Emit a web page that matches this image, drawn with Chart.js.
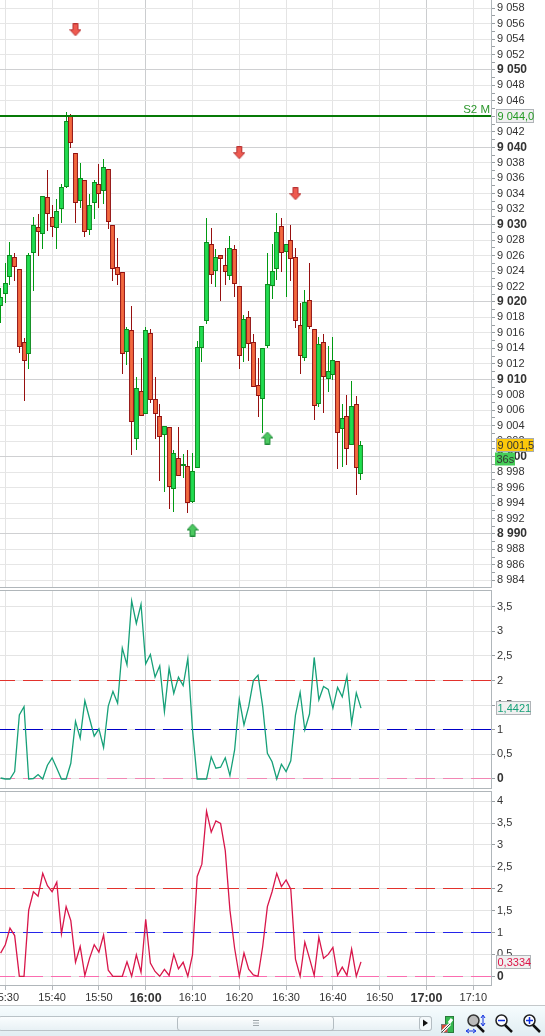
<!DOCTYPE html>
<html><head><meta charset="utf-8">
<script src="https://cdn.jsdelivr.net/npm/chart.js@4/dist/chart.umd.min.js"></script>
<style>
html,body{margin:0;padding:0;background:#fff;width:545px;height:1036px;overflow:hidden;font-family:"Liberation Sans",Arial,sans-serif}
canvas{position:absolute;left:0;display:block}
#bar{position:absolute;left:0;top:1005px;width:545px;height:31px;border-top:1px solid #c4c8ca;box-sizing:border-box;background:linear-gradient(#f6fcfe,#e1edf2)}
#track{position:absolute;left:-2px;top:10px;width:434px;height:15px;border:1px solid #b9c2c7;border-radius:3px;box-sizing:border-box;background:linear-gradient(#fafdfe,#e8f1f5)}
#thumb{position:absolute;left:177px;top:10px;width:157px;height:15px;border:1px solid #b4bdc2;border-radius:3px;box-sizing:border-box;background:linear-gradient(#fdfefe,#e6eff3)}
#btn{position:absolute;left:419px;top:10px;width:13px;height:15px;border:1px solid #b4bdc2;border-radius:3px;box-sizing:border-box;background:#f4f9fb}
svg{position:absolute}
</style></head><body>
<canvas id="c1" width="545" height="588" style="top:0"></canvas>
<canvas id="c2" width="545" height="199" style="top:590px"></canvas>
<canvas id="c3" width="545" height="215" style="top:791px"></canvas>
<div id="bar">
 <div id="track"></div><div id="thumb"></div><div id="btn"></div>
 <svg style="left:0;top:0" width="545" height="31" viewBox="0 0 545 31">
  <g stroke="#a0a8ac"><path d="M253 14.5h6M253 17h6M253 19.5h6"/></g>
  <path d="M423 13.5l5 3.5-5 3.5z" fill="#111"/>
  <rect x="445.500" y="10.500" width="8" height="16" fill="#35b84f" stroke="#2a7a3a"/>
  <rect x="441.500" y="18.500" width="6" height="8" fill="#d84a3a" stroke="#777"/>
  <path d="M442 26l8-8M449 17l3-4" stroke="#fff" stroke-width="3"/>
  <path d="M442 26l8-8" stroke="#444" stroke-width="1" fill="none"/>
  <circle cx="473.500" cy="14.500" r="5.500" fill="#bbb" stroke="#333" stroke-width="1.500"/>
  <path d="M477 19l7 7" stroke="#111" stroke-width="2.500"/>
  <path d="M483 10v9M481 12l2-3 2 3M481 17l2 3 2-3M467 25h8M469 23l-3 2 3 2M473 23l3 2-3 2" stroke="#1030e0" fill="none"/>
  <circle cx="501.500" cy="14.500" r="5.500" fill="#fff" stroke="#222" stroke-width="1.500"/>
  <path d="M498 14.500h7" stroke="#1030e0" stroke-width="1.500"/>
  <path d="M505 19l7 7" stroke="#111" stroke-width="2.500"/>
  <circle cx="529.500" cy="14.500" r="5.500" fill="#fff" stroke="#222" stroke-width="1.500"/>
  <path d="M526 14.500h7M529.500 11v7" stroke="#1030e0" stroke-width="1.500"/>
  <path d="M533 19l7 7" stroke="#111" stroke-width="2.500"/>
 </svg>
</div>
<script>
// ---------- data (minutes after 15:30) ----------
const tickMinutes = [0,10,20,30,40,50,60,70,80,90,100];
const tickLabels = ['15:30','15:40','15:50','16:00','16:10','16:20','16:30','16:40','16:50','17:00','17:10'];
const boldTimes = ['16:00','17:00'];
const firstMinute = -1;
const opens = [9019.48,9020.99,9023.28,9025.78,9024.22,9014.79,9013.23,9026.29,9029.74,9028.75,9033.53,9030.95,9029.52,9031.98,9034.91,9044.22,9039.22,9033.02,9035.73,9029.27,9032.76,9035.22,9034.40,9037.24,9029.91,9024.48,9023.84,9013.49,9016.34,9002.24,9008.45,9005.48,9015.95,9007.41,9005.22,9002.76,9003.79,8995.78,8999.79,8998.75,8998.75,8994.14,8998.49,9014.01,9017.50,9027.46,9023.97,9026.04,9024.74,9023.32,9026.81,9022.03,9014.01,9018.02,9014.78,9009.22,9007.41,9014.27,9022.03,9024.22,9029.78,9026.42,9027.97,9025.78,9016.98,9012.72,9020.22,9016.47,9006.77,9014.78,9010.00,9010.52,9012.33,9003.53,9005.22,9001.47,9006.77,8997.72];
const closes = [9020.69,9022.41,9026.03,9024.48,9014.23,9012.42,9026.03,9029.91,9029.00,9033.75,9031.34,9029.74,9031.72,9034.83,9043.45,9040.52,9032.76,9035.99,9029.00,9032.50,9035.47,9033.92,9037.41,9030.30,9024.22,9023.45,9013.23,9016.47,9004.44,9008.84,9005.22,9016.34,9007.29,9005.48,9002.50,9003.92,8996.04,9000.43,8997.46,8999.00,8993.97,8998.19,9014.22,9016.94,9027.72,9023.45,9025.78,9025.52,9023.84,9026.94,9022.28,9012.97,9017.76,9014.53,9008.97,9007.80,9014.01,9022.28,9023.97,9029.01,9026.29,9027.46,9025.52,9017.50,9012.97,9019.96,9016.72,9006.51,9014.53,9010.26,9011.03,9012.46,9003.02,9004.96,9000.95,9006.51,8998.49,9001.47];
const highs = [9021.77,9025.00,9027.71,9026.29,9024.22,9015.30,9026.29,9030.95,9031.34,9033.75,9037.07,9032.50,9033.28,9035.22,9044.53,9044.30,9039.22,9037.93,9035.73,9033.92,9035.77,9037.80,9038.45,9037.24,9029.91,9028.23,9023.84,9016.73,9019.48,9010.26,9012.72,9016.73,9016.47,9010.26,9006.77,9003.92,9003.79,9000.86,9003.79,9000.30,9000.82,9000.43,9014.96,9016.94,9030.82,9029.53,9026.81,9026.04,9026.94,9028.49,9027.33,9022.03,9018.28,9018.79,9015.82,9012.72,9014.01,9026.29,9027.46,9031.47,9030.82,9027.46,9029.91,9026.94,9019.83,9021.51,9025.00,9016.47,9015.43,9015.82,9014.31,9015.43,9012.33,9006.77,9007.93,9009.74,9007.80,9001.98];
const lows = [9017.24,9019.91,9022.20,9022.76,9013.45,9007.24,9011.34,9021.46,9025.99,9026.85,9029.22,9028.45,9026.85,9030.26,9034.74,9039.96,9030.26,9032.20,9028.45,9028.70,9030.77,9032.20,9032.72,9029.48,9022.71,9022.24,9010.73,9011.90,9000.26,9000.91,9005.22,9005.48,9006.99,9002.24,8996.90,8995.48,8993.28,8992.89,8997.46,8997.24,8992.76,8994.00,8998.49,9012.28,9017.20,9022.37,9021.94,9020.13,9022.20,9022.89,9020.65,9011.38,9012.24,9012.33,9008.97,9005.13,9003.02,9014.01,9020.43,9022.89,9023.92,9020.69,9022.76,9016.68,9010.73,9012.41,9016.47,9004.78,9006.47,9005.69,9008.41,9009.91,8998.45,8998.71,8998.97,9001.47,8995.00,8996.94];
const volatilityA = [0.02,0,0,0.15,1.30,1.47,0,0.01,0.09,0,0.28,0.43,0.22,0,0,0.32,1.17,0.83,1.59,1.23,0.87,1.02,0.64,1.48,1.78,1.54,2.66,2.32,3.62,3.16,3.55,2.34,2.53,2.07,2.30,1.37,2.25,1.74,2.07,1.90,2.45,1.00,0,0,0,0.45,0.22,0.24,0.43,0.07,0.59,1.62,1.10,1.47,2.00,2.11,1.47,0.52,0.35,0,0.30,0.15,0.37,1.30,1.76,1.00,1.32,2.47,1.61,1.88,1.82,1.44,1.86,1.67,2.09,1.13,1.75,1.44];
const volatilityB = [0.53,0.72,1.10,0.93,0,0,1.51,1.93,1.83,2.35,2.07,1.93,2.15,0.97,1.59,1.27,0.32,0.68,0.02,0.41,0.72,0.55,0.94,0.14,0,0,0,0.33,0,0.49,0.09,1.30,0.30,0.11,0,0.16,0.02,0.50,0.17,0.32,0,0.49,2.28,2.56,3.77,3.29,3.55,3.49,2.87,1.51,0.64,0,0.53,0.16,0.03,0,0.68,1.59,1.93,2.35,2.05,2.20,1.99,0.39,0,0.78,0.41,0.02,0.89,0.41,0.50,0.66,0.02,0.21,0.02,0.62,0,0.33];
const arrowsDown = [[15,9055.2],[50,9039.3],[62,9034.0]];
const arrowsUp = [[40,8990.5],[56,9002.4]];
const supportLevel = 9044;
const supportName = 'S2 M';
const lastPrice = 9001.5;
const lastPriceText = '9 001,5';
const supportText = '9 044,0';
const countdownText = '36s';
const lastA = 1.4421, lastAText = '1,4421';
const lastB = 0.3334, lastBText = '0,3334';
const panelTickValues = [0,0.5,1,1.5,2,2.5,3,3.5];
const panelTickLabels = ['0','0,5','1','1,5','2','2,5','3','3,5'];
const panel3TickValues = [0,0.5,1,1.5,2,2.5,3,3.5,4];
const panel3TickLabels = ['0','0,5','1','1,5','2','2,5','3','3,5','4'];
const levelHigh = 2, levelMid = 1, levelZero = 0;

// ---------- layout constants ----------
const xMin = -1.132, xMax = 103.78;
const AXIS_W = 54;
const FONT = '"Liberation Sans", Arial, sans-serif';
const minutes = opens.map((_, i) => firstMinute + i);
const mainTicks = [];
for (let v = 8984; v <= 9058; v++) mainTicks.push(v);

function xScale(showLabels, extra) {
  return Object.assign({
    type: 'linear', min: xMin, max: xMax, offset: false,
    grid: { offset: false, drawTicks: showLabels, tickLength: 5, tickColor: '#b4b8bc',
      color: c => c.tick && boldTimes.includes(tickLabels[tickMinutes.indexOf(c.tick.value)]) ? '#cbcdcf' : '#e4e4e4' },
    border: { display: false },
    ticks: { display: showLabels, autoSkip: false, maxRotation: 0, minRotation: 0, padding: 1, color: '#333',
      callback: v => tickLabels[tickMinutes.indexOf(v)] || '',
      font: c => c.tick && boldTimes.includes(tickLabels[tickMinutes.indexOf(c.tick.value)])
        ? { family: FONT, size: 12.5, weight: 'bold' } : { family: FONT, size: 11 } },
    afterBuildTicks: s => { s.ticks = tickMinutes.map(v => ({ value: v })); },
    afterFit: s => { s.paddingLeft = 0; s.paddingRight = 0; s.height = showLabels ? 21 : 0; }
  }, extra || {});
}
function yScale(min, max, values, labelFn, boldFn, gridFn) {
  return {
    type: 'linear', position: 'right', min, max, offset: false,
    grid: { drawTicks: true, tickLength: 4, tickColor: '#9aa0a4', color: gridFn },
    border: { display: false },
    ticks: { autoSkip: false, padding: 2, color: '#333', callback: labelFn,
      font: c => c.tick && boldFn(c.tick.value) ? { family: FONT, size: 12, weight: 'bold' } : { family: FONT, size: 11 } },
    afterBuildTicks: s => { s.ticks = values.map(v => ({ value: v })); },
    afterFit: s => { s.width = AXIS_W; s.paddingTop = 0; s.paddingBottom = 0; }
  };
}
function labelBox(ctx, text, y, x0, x1, h, bg, border, color) {
  y = Math.round(y);
  ctx.save();
  ctx.fillStyle = bg; ctx.fillRect(x0, y - h / 2, x1 - x0, h);
  if (border) { ctx.strokeStyle = border; ctx.lineWidth = 1; ctx.strokeRect(x0 + .5, y - h / 2 + .5, x1 - x0 - 1, h - 1); }
  ctx.fillStyle = color; ctx.font = '11px ' + FONT; ctx.textBaseline = 'middle'; ctx.textAlign = 'left';
  ctx.fillText(text, x0 + 1.5, y + .5);
  ctx.restore();
}
function frame(top) {
  return { id: 'frame', afterDatasetsDraw(chart) {
    const a = chart.chartArea, c = chart.ctx;
    c.save(); c.strokeStyle = '#b0b6ba'; c.lineWidth = 1; c.beginPath();
    if (top) { c.moveTo(0, a.top - .5); c.lineTo(a.right + .5, a.top - .5); }
    c.moveTo(a.right + .5, a.top - 1); c.lineTo(a.right + .5, a.bottom + .5);
    c.moveTo(0, a.bottom + .5); c.lineTo(a.right + 1, a.bottom + .5);
    c.stroke(); c.restore();
  } };
}
// crisp edges: nudge the bars and level lines the library has laid out onto whole pixels
const crisp = { id: 'crisp', beforeDatasetsDraw(chart) {
  chart.getSortedVisibleDatasetMetas().forEach(meta => {
    if (meta.type === 'bar') {
      meta.data.forEach(el => {
        el.x = Math.round(el.x - .5) + .5;
        el.y = Math.round(el.y);
        el.base = Math.round(el.base);
      });
    } else if (meta.type === 'line' && meta.data.length === 2) {
      const w = meta.dataset.options.borderWidth;
      meta.data.forEach(p => { p.y = w % 2 ? Math.floor(p.y) + .5 : Math.round(p.y); });
    }
  });
} };
function arrowImage(up) {
  const cv = document.createElement('canvas'); cv.width = 12; cv.height = 13;
  const c = cv.getContext('2d');
  if (!up) { c.translate(0, 13); c.scale(1, -1); }
  c.beginPath(); c.moveTo(6, 0.5); c.lineTo(11.5, 6.5); c.lineTo(8.5, 6.5); c.lineTo(8.5, 12.5);
  c.lineTo(3.500, 12.5); c.lineTo(3.500, 6.5); c.lineTo(0.5, 6.5); c.closePath();
  c.fillStyle = up ? '#4cc860' : '#ee5a50'; c.fill();
  c.strokeStyle = up ? '#1e8a38' : '#b83030'; c.lineWidth = 1; c.stroke();
  return cv;
}
function levelSet(value, color) {
  return { type: 'line', data: [{ x: xMin, y: value }, { x: xMax, y: value }], borderColor: color, borderWidth: 1,
    borderDash: [20, 8], borderDashOffset: 5, pointRadius: 0, order: 3 };
}
const common = {
  responsive: false, animation: false, events: [], devicePixelRatio: 1,
  plugins: { legend: { display: false }, tooltip: { enabled: false } }
};
function bodyGradient(c, base, mid) {
  const px = c.chart.scales.x ? c.chart.scales.x.getPixelForValue(minutes[c.dataIndex]) : NaN;
  if (!Number.isFinite(px)) return base;
  const cx = Math.round(px - .5) + .5;
  const g = c.chart.ctx.createLinearGradient(cx - 2.5, 0, cx + 2.5, 0);
  g.addColorStop(0, base); g.addColorStop(.5, mid); g.addColorStop(1, base);
  return g;
}
const isUp = i => closes[i] >= opens[i];

// ---------- main price chart ----------
new Chart(document.getElementById('c1'), {
  type: 'bar',
  data: { datasets: [
    { type: 'bar', data: minutes.map((m, i) => ({ x: m, y: [lows[i], highs[i]] })), grouped: false, barPercentage: 1, maxBarThickness: 1,
      backgroundColor: c => isUp(c.dataIndex) ? '#009a12' : '#960f0f', borderWidth: 0, order: 3 },
    { type: 'bar', data: minutes.map((m, i) => ({ x: m, y: [opens[i], closes[i]] })), grouped: false, barPercentage: 1.3, maxBarThickness: 5,
      backgroundColor: c => isUp(c.dataIndex) ? bodyGradient(c, '#05bb33', '#1de04e') : bodyGradient(c, '#dc4318', '#f4683e'),
      borderColor: c => isUp(c.dataIndex) ? '#0a8a1c' : '#920f0f', borderWidth: 1, borderSkipped: false, order: 2 },
    { type: 'line', data: [{ x: xMin, y: supportLevel }, { x: xMax, y: supportLevel }], borderColor: '#067a06', borderWidth: 2, pointRadius: 0, order: 1 },
    { type: 'line', showLine: false, data: arrowsDown.map(a => ({ x: a[0], y: a[1] })), pointStyle: arrowImage(false), order: 0 },
    { type: 'line', showLine: false, data: arrowsUp.map(a => ({ x: a[0], y: a[1] })), pointStyle: arrowImage(true), order: 0 }
  ] },
  options: Object.assign({}, common, {
    layout: { autoPadding: false, padding: { left: 0, right: 0, top: 0, bottom: 1 } },
    scales: {
      x: xScale(false),
      y: yScale(8983.14, 9059.05, mainTicks,
        v => v % 2 ? '' : String(v).replace(/^(\d)(\d{3})$/, '$1 $2'),
        v => v % 10 === 0,
        c => c.tick.value % 10 === 0 ? '#cfd0d2' : (c.tick.value % 2 ? 'rgba(0,0,0,0)' : '#e6e6e6'))
    }
  }),
  plugins: [crisp, frame(false), { id: 'mainLabels', afterDraw(chart) {
    const y = chart.scales.y, c = chart.ctx;
    c.save(); c.fillStyle = '#2b962b'; c.font = '11.5px ' + FONT; c.textAlign = 'right'; c.textBaseline = 'alphabetic';
    c.fillText(supportName, 490, y.getPixelForValue(supportLevel) - 3); c.restore();
    labelBox(c, supportText, y.getPixelForValue(supportLevel), 496, 534, 14, '#f0f0f0', '#b0b4b8', '#229a22');
    const py = y.getPixelForValue(lastPrice);
    labelBox(c, lastPriceText, py, 496, 534, 14, '#fcc80a', '#a8acb0', '#333');
    labelBox(c, countdownText, py + 13.5, 495, 515, 13, '#45cc58', null, '#333');
  } }]
});

// ---------- first indicator ----------
new Chart(document.getElementById('c2'), {
  type: 'line',
  data: { datasets: [
    levelSet(levelHigh, '#e2322c'), levelSet(levelMid, '#0000c8'), levelSet(levelZero, '#f286b4'),
    { data: minutes.map((m, i) => ({ x: m, y: volatilityA[i] })), borderColor: '#16a078', borderWidth: 1.3, pointRadius: 0, tension: 0, order: 1 }
  ] },
  options: Object.assign({}, common, {
    layout: { autoPadding: false, padding: { left: 0, right: 0, top: 1, bottom: 1 } },
    scales: {
      x: xScale(false),
      y: yScale(-0.183, 3.82, panelTickValues,
        v => panelTickLabels[panelTickValues.indexOf(v)],
        v => v === 0,
        () => '#e4e4e4')
    }
  }),
  plugins: [crisp, frame(true), { id: 'aLabel', afterDraw(chart) {
    labelBox(chart.ctx, lastAText, chart.scales.y.getPixelForValue(lastA), 496, 531, 14, '#f0f0f0', '#b0b4b8', '#16a078');
  } }]
});

// ---------- second indicator and time axis ----------
new Chart(document.getElementById('c3'), {
  type: 'line',
  data: { datasets: [
    levelSet(levelHigh, '#e2322c'), levelSet(levelMid, '#2424ea'), levelSet(levelZero, '#fb6cb0'),
    { data: minutes.map((m, i) => ({ x: m, y: volatilityB[i] })), borderColor: '#d8164a', borderWidth: 1.3, pointRadius: 0, tension: 0, order: 1 }
  ] },
  options: Object.assign({}, common, {
    layout: { autoPadding: false, padding: { left: 0, right: 0, top: 1, bottom: 0 } },
    scales: {
      x: xScale(true),
      y: yScale(-0.199, 4.208, panel3TickValues,
        v => panel3TickLabels[panel3TickValues.indexOf(v)],
        v => v === 0,
        () => '#e4e4e4')
    }
  }),
  plugins: [crisp, frame(true), { id: 'bLabel', afterDraw(chart) {
    labelBox(chart.ctx, lastBText, chart.scales.y.getPixelForValue(lastB), 496, 531, 14, '#f0f0f0', '#b0b4b8', '#dc1448');
  } }]
});
</script>
</body></html>
